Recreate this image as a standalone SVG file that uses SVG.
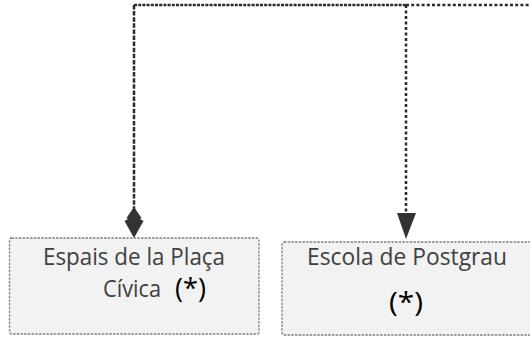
<svg xmlns="http://www.w3.org/2000/svg" width="530" height="338" viewBox="0 0 530 338">
<style>
.box{fill:#f2f2f2;stroke:#808080;stroke-width:1.3;stroke-dasharray:2.5 1.2}
.t{font-family:"Open Sans","Liberation Sans",sans-serif;font-size:23px;fill:#404040}
.s{font-family:"Open Sans","Liberation Sans",sans-serif;font-size:27px;fill:#000}
.c{fill:none;stroke:#2b2b2b;stroke-width:2.5}
.h{fill:#333}
</style>
<rect width="530" height="338" fill="#fff"/>
<g id="connectors">
<path class="c" d="M134,5 H406" stroke-dasharray="3 1.2"/>
<path class="c" d="M406,5 H530" stroke-width="2.2" stroke-dasharray="3 2.2"/>
<path class="c" d="M134,5 V210" stroke-dasharray="4.5 1.6"/>
<path class="c" d="M406,5 V213" stroke-width="2.2" stroke-dasharray="3 2.5"/>
<polygon class="h" points="134,207 141.5,218 140,219 143.5,221 134,238 124.5,221 128,219 126.5,218"/>
<polygon class="h" points="397,213 416,213 406,239"/>
</g>
<g id="node-placa">
<rect class="box" x="9.5" y="238" width="249.5" height="96" rx="2"/>
<text class="t" x="43" y="265" textLength="182" lengthAdjust="spacingAndGlyphs">Espais de la Plaça</text>
<text class="t" x="103" y="297" textLength="58" lengthAdjust="spacingAndGlyphs">Cívica</text>
<text class="s" x="175" y="298" textLength="31" lengthAdjust="spacingAndGlyphs">(*)</text>
</g>
<g id="node-postgrau">
<rect class="box" x="282" y="242" width="252" height="93" rx="2"/>
<text class="t" x="307" y="265" textLength="200" lengthAdjust="spacingAndGlyphs">Escola de Postgrau</text>
<text class="s" x="389" y="312" textLength="34" lengthAdjust="spacingAndGlyphs">(*)</text>
</g>
</svg>
